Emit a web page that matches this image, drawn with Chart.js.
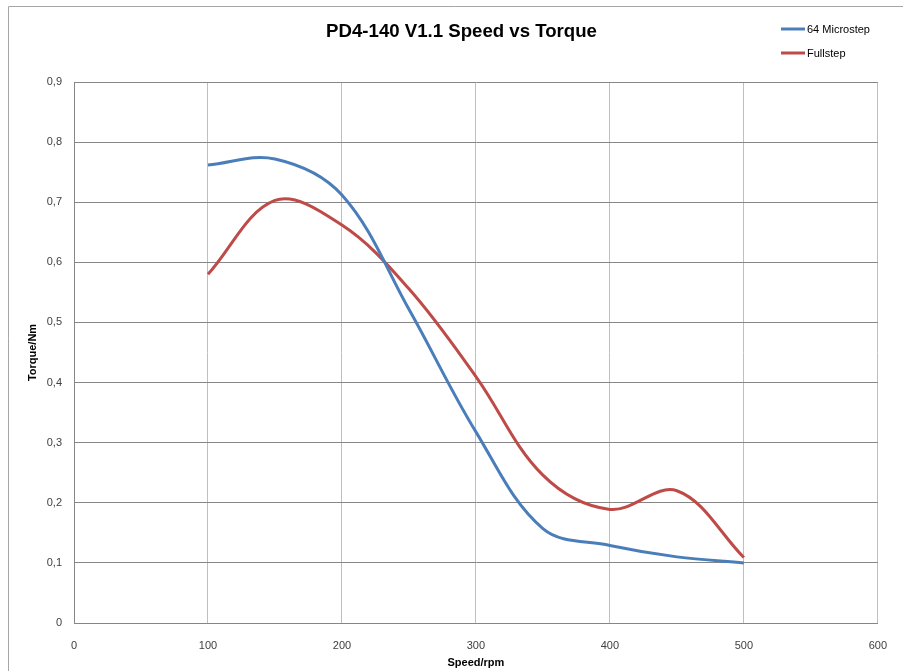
<!DOCTYPE html>
<html>
<head>
<meta charset="utf-8">
<script src="https://cdn.jsdelivr.net/npm/chart.js@4/dist/chart.umd.min.js"></script>
<style>
  html, body { margin: 0; padding: 0; background: #fff; }
  #wrap { width: 903px; height: 671px; position: relative; }
</style>
</head>
<body>
<div id="wrap"><canvas id="c" width="903" height="671"></canvas></div>
<script>
// ---- data ----
const chartTitle = 'PD4-140 V1.1 Speed vs Torque';
const xTitle = 'Speed/rpm';
const yTitle = 'Torque/Nm';
const speeds = [100, 150, 200, 250, 300, 350, 400, 450, 500];
const microstepLabel = '64 Microstep';
const microstepTorque = [0.762, 0.772, 0.712, 0.522, 0.318, 0.157, 0.129, 0.110, 0.100];
const fullstepLabel = 'Fullstep';
const fullstepTorque = [0.580, 0.703, 0.662, 0.556, 0.410, 0.246, 0.189, 0.220, 0.109];
const xTicks = [0, 100, 200, 300, 400, 500, 600];
const yTicks = [0, 0.1, 0.2, 0.3, 0.4, 0.5, 0.6, 0.7, 0.8, 0.9];
const yTickLabels = ['0', '0,1', '0,2', '0,3', '0,4', '0,5', '0,6', '0,7', '0,8', '0,9'];

const FONT = '"Liberation Sans", Arial, sans-serif';

const toPts = (ys) => speeds.map((x, i) => ({ x: x, y: ys[i] }));

const decorPlugin = {
  id: 'decor',
  beforeDraw(chart) {
    const ctx = chart.ctx;
    ctx.save();
    ctx.fillStyle = '#fff';
    ctx.fillRect(0, 0, chart.width, chart.height);
    ctx.strokeStyle = '#a6a6a6';
    ctx.lineWidth = 1;
    ctx.beginPath();
    ctx.moveTo(8.5, chart.height);
    ctx.lineTo(8.5, 6.5);
    ctx.lineTo(chart.width, 6.5);
    ctx.stroke();
    ctx.restore();
  },
  afterDraw(chart) {
    const ctx = chart.ctx;
    ctx.save();
    // title
    ctx.fillStyle = '#000';
    ctx.font = 'bold 19px ' + FONT;
    ctx.textAlign = 'center';
    ctx.textBaseline = 'alphabetic';
    ctx.save();
    ctx.translate(461.5, 37);
    ctx.scale(0.98, 1);
    ctx.fillText(chartTitle, 0, 0);
    ctx.restore();
    // legend
    ctx.font = '11px ' + FONT;
    ctx.textAlign = 'left';
    ctx.textBaseline = 'middle';
    chart.data.datasets.forEach((ds, i) => {
      const y = 29 + i * 24;
      ctx.strokeStyle = ds.borderColor;
      ctx.lineWidth = 3;
      ctx.beginPath();
      ctx.moveTo(781, y);
      ctx.lineTo(805, y);
      ctx.stroke();
      ctx.fillStyle = '#000';
      ctx.fillText(ds.label, 807, y + 0.5);
    });
    ctx.restore();
  }
};

new Chart(document.getElementById('c'), {
  type: 'line',
  data: {
    datasets: [
      {
        label: microstepLabel,
        data: toPts(microstepTorque),
        borderColor: '#4a7ebb',
        backgroundColor: '#4a7ebb',
        borderWidth: 3,
        pointRadius: 0,
        tension: 0.36,
        fill: false
      },
      {
        label: fullstepLabel,
        data: toPts(fullstepTorque),
        borderColor: '#be4b48',
        backgroundColor: '#be4b48',
        borderWidth: 3,
        pointRadius: 0,
        tension: 0.36,
        fill: false
      }
    ]
  },
  options: {
    responsive: false,
    animation: false,
    devicePixelRatio: 1,
    layout: { padding: { left: 8, right: 24, top: 82, bottom: 0 } },
    plugins: {
      legend: { display: false },
      title: { display: false },
      tooltip: { enabled: false }
    },
    scales: {
      x: {
        type: 'linear',
        min: 0,
        max: 600,
        afterBuildTicks(scale) { scale.ticks = xTicks.map(v => ({ value: v })); },
        afterFit(scale) { scale.height = 48; },
        grid: { color: '#bfbfbf', lineWidth: 1, drawTicks: false },
        border: { color: '#868686', width: 1 },
        ticks: {
          padding: 16,
          color: '#404040',
          font: { family: FONT, size: 11 },
          maxRotation: 0,
          callback: (v) => String(v)
        },
        title: {
          display: true,
          text: xTitle,
          color: '#000',
          font: { family: FONT, size: 11, weight: 'bold' },
          padding: { top: 4, bottom: 1 }
        }
      },
      y: {
        type: 'linear',
        min: 0,
        max: 0.9,
        afterBuildTicks(scale) { scale.ticks = yTicks.map(v => ({ value: v })); },
        afterFit(scale) { scale.width = 66; },
        grid: { color: '#868686', lineWidth: 1, drawTicks: false },
        border: { color: '#868686', width: 1 },
        ticks: {
          padding: 12,
          color: '#404040',
          font: { family: FONT, size: 11 },
          callback: (v) => { const i = yTicks.findIndex(t => Math.abs(t - v) < 1e-9); return i >= 0 ? yTickLabels[i] : ''; }
        },
        title: {
          display: true,
          text: yTitle,
          color: '#000',
          font: { family: FONT, size: 11, weight: 'bold' },
          padding: { top: 18, bottom: 0 }
        }
      }
    }
  },
  plugins: [decorPlugin]
});
</script>
</body>
</html>
